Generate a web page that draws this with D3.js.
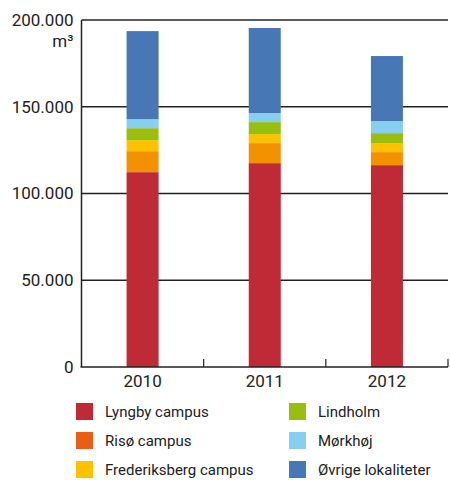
<!DOCTYPE html>
<head>
  <meta charset="utf-8">
  <script src="https://d3js.org/d3.v7.min.js"></script>
  <style>
    body { margin:0; background:#fff; }
    text { font-family: Roboto, sans-serif; fill:#222; }
    .tick-label { font-size:17px; }
    .legend text { font-size:15px; }
    .grid line { stroke:#222; stroke-width:1.5; }
  </style>
</head>
<body>
  <script>
    var years = ["2010", "2011", "2012"];
    var series = ["Lyngby campus", "Risø campus", "Frederiksberg campus", "Lindholm", "Mørkhøj", "Øvrige lokaliteter"];
    var colors = ["#be2a36", "#f39200", "#fcc200", "#99be10", "#86cff0", "#4877b5"];
    var legendColors = ["#be2a36", "#e85e14", "#fcc200", "#99be10", "#86cff0", "#4877b5"];
    var lyngby = [112300, 117500, 116350];
    var riso = [12100, 11550, 7500];
    var frederiksberg = [6350, 5200, 5200];
    var lindholm = [6900, 6900, 5750];
    var morkhoj = [5200, 5200, 6930];
    var ovrige = [50750, 49050, 37500];
    var yTicks = [0, 50000, 100000, 150000, 200000];

    var values = [lyngby, riso, frederiksberg, lindholm, morkhoj, ovrige];
    var table = years.map(function(y, i) {
      var row = { year: y };
      series.forEach(function(s, j) { row[s] = values[j][i]; });
      return row;
    });

    var margin = {top: 20, right: 2, bottom: 113, left: 81.5};
    var W = 450, H = 480;
    var width = W - margin.left - margin.right,
        height = H - margin.top - margin.bottom;

    var svg = d3.select("body").append("svg")
        .attr("width", W)
        .attr("height", H);
    var g = svg.append("g")
        .attr("transform", "translate(" + margin.left + "," + margin.top + ")");

    var x = d3.scaleBand().domain(years).range([0, width]).paddingInner(0.738).paddingOuter(0.369);
    var xTick = d3.scaleBand().domain(years).range([0, width]);
    var y = d3.scaleLinear().domain([0, 200000]).range([height, 0]);

    var fmt = function(d) { return d3.format(",")(d).replace(/,/g, "."); };

    // gridlines
    g.append("g").attr("class", "grid")
      .selectAll("line").data(yTicks.slice(1))
      .enter().append("line")
        .attr("x1", 0).attr("x2", width)
        .attr("y1", function(d) { return y(d); })
        .attr("y2", function(d) { return y(d); });

    // bars
    var stack = d3.stack().keys(series)(table);
    g.append("g").selectAll("g").data(stack)
      .enter().append("g")
        .attr("fill", function(d, i) { return colors[i]; })
      .selectAll("rect").data(function(d) { return d; })
      .enter().append("rect")
        .attr("x", function(d) { return x(d.data.year); })
        .attr("width", x.bandwidth())
        .attr("y", function(d) { return y(d[1]); })
        .attr("height", function(d) { return y(d[0]) - y(d[1]); });

    // axes lines
    g.append("line")
      .attr("x1", 0).attr("x2", 0).attr("y1", 0).attr("y2", height)
      .attr("stroke", "#222").attr("stroke-width", 1.5);
    g.append("line")
      .attr("x1", -1).attr("x2", width).attr("y1", height).attr("y2", height)
      .attr("stroke", "#222").attr("stroke-width", 1.5);
    g.append("g").selectAll("line").data(years)
      .enter().append("line")
        .attr("x1", function(d) { return xTick(d) + xTick.bandwidth(); })
        .attr("x2", function(d) { return xTick(d) + xTick.bandwidth(); })
        .attr("y1", height).attr("y2", height - 8)
        .attr("stroke", "#222").attr("stroke-width", 1.2);

    // y labels
    g.append("g").selectAll("text").data(yTicks)
      .enter().append("text")
        .attr("class", "tick-label")
        .attr("x", -8)
        .attr("y", function(d) { return y(d); })
        .attr("dy", "0.35em")
        .attr("text-anchor", "end")
        .text(fmt);
    g.append("text")
      .attr("class", "tick-label")
      .attr("x", -8).attr("y", 27)
      .attr("text-anchor", "end")
      .text("m³");

    // x labels
    g.append("g").selectAll("text").data(years)
      .enter().append("text")
        .attr("class", "tick-label")
        .attr("x", function(d) { return x(d) + x.bandwidth() / 2; })
        .attr("y", height + 20)
        .attr("text-anchor", "middle")
        .text(function(d) { return d; });

    // legend
    var legend = svg.append("g").attr("class", "legend")
      .selectAll("g").data(series)
      .enter().append("g")
        .attr("transform", function(d, i) {
          return "translate(" + (i < 3 ? 76 : 289) + "," + (403 + (i % 3) * 29) + ")";
        });
    legend.append("rect")
      .attr("width", 17).attr("height", 17)
      .attr("fill", function(d, i) { return legendColors[i]; });
    legend.append("text")
      .attr("x", 29).attr("y", 8.5).attr("dy", "0.35em")
      .text(function(d) { return d; });
  </script>
</body>
